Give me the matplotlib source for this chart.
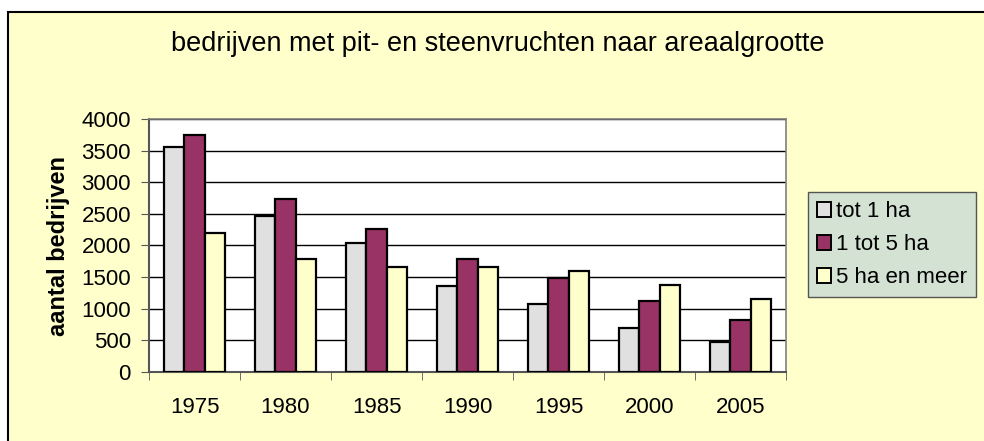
import matplotlib.pyplot as plt
import numpy as np
from matplotlib.patches import Rectangle

years = ["1975", "1980", "1985", "1990", "1995", "2000", "2005"]
tot_1_ha = [3550, 2460, 2040, 1360, 1075, 690, 480]
tot_5_ha = [3750, 2735, 2260, 1780, 1485, 1130, 825]
meer_5_ha = [2200, 1780, 1665, 1665, 1590, 1370, 1160]

series_labels = ["tot 1 ha", "1 tot 5 ha", "5 ha en meer"]
series_colors = ["#E0E0E0", "#993366", "#FFFFCC"]

plt.rcParams["font.family"] = ["Liberation Sans", "DejaVu Sans"]

W, H = 984, 441
fig = plt.figure(figsize=(W / 100, H / 100), dpi=100)
fig.patch.set_facecolor("white")

# pale yellow chart area with black border (runs off right and bottom)
fig.patches.append(Rectangle((8 / W, -0.05), 1.1, (H - 12) / H + 0.05,
                             transform=fig.transFigure, facecolor="#FFFFCC",
                             edgecolor="black", linewidth=1.5, zorder=-5))

ax = fig.add_axes([149 / W, (H - 372) / H, (786 - 149) / W, (372 - 119) / H])
ax.set_facecolor("white")

x = np.arange(len(years))
width = 1 / 4.5
for i, (vals, lab, col) in enumerate(zip([tot_1_ha, tot_5_ha, meer_5_ha],
                                         series_labels, series_colors)):
    ax.bar(x + (i - 1) * width, vals, width=width, color=col,
           edgecolor="black", linewidth=1.6, label=lab, zorder=3)

ax.set_xlim(-0.5, len(years) - 0.5)
ax.set_ylim(0, 4000)
ax.set_yticks(range(0, 4001, 500))
ax.yaxis.grid(True, color="black", linewidth=1, zorder=0)
ax.set_axisbelow(True)

fs = 16
ax.set_xticks(x)
ax.set_xticklabels(years)
ax.set_xticks(np.arange(-0.5, len(years)), minor=True)
ax.tick_params(axis="x", which="major", length=0, pad=18, labelsize=fs)
ax.tick_params(axis="x", which="minor", length=5.5, direction="out", color="#555555")
ax.tick_params(axis="y", length=6, direction="out", color="#555555", labelsize=fs, pad=7)

for side in ["top", "right"]:
    ax.spines[side].set_color("#808080")
    ax.spines[side].set_linewidth(1.2)
for side in ["left", "bottom"]:
    ax.spines[side].set_color("#555555")
    ax.spines[side].set_linewidth(1.5)

ax.set_ylabel("aantal bedrijven", fontsize=17, fontweight="bold", labelpad=8)

fig.text(0.5 * (165 + 830) / W, 1 - 44 / H,
         "bedrijven met pit- en steenvruchten naar areaalgrootte",
         ha="center", va="center", fontsize=19.5)

leg = ax.legend(loc="upper left", bbox_to_anchor=(808 / W, 1 - 192 / H),
                bbox_transform=fig.transFigure, frameon=True, fancybox=False,
                fontsize=fs, handlelength=0.65, handleheight=0.65,
                handletextpad=0.2, labelspacing=0.55, borderpad=0.4,
                borderaxespad=0)
leg.get_frame().set_facecolor("#D3E2D3")
leg.get_frame().set_edgecolor("#555555")
leg.get_frame().set_alpha(1)
for h in leg.legend_handles:
    h.set_linewidth(1.4)

fig.savefig("out.png", dpi=100, facecolor=fig.get_facecolor())
